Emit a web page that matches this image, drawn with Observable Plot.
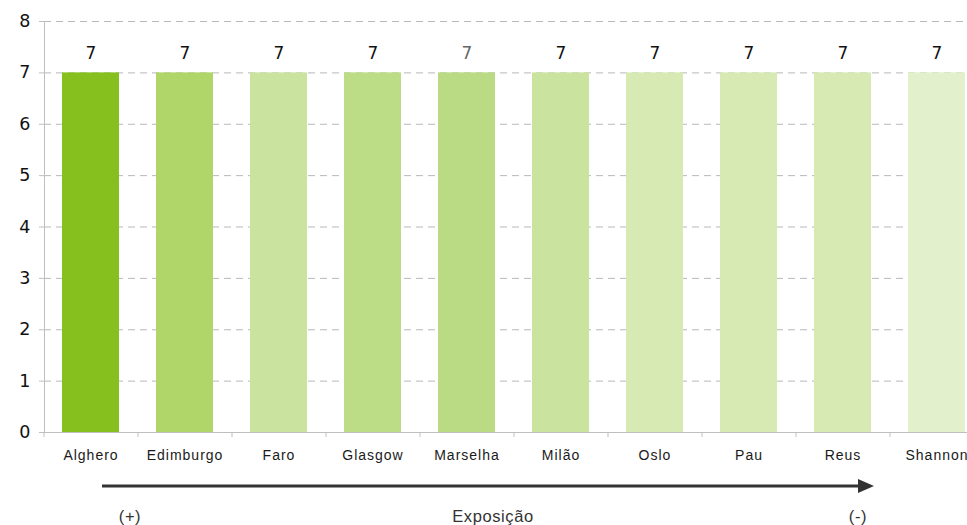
<!DOCTYPE html>
<html>
<head>
<meta charset="utf-8">
<script src="https://cdn.jsdelivr.net/npm/d3@7"></script>
<script src="https://cdn.jsdelivr.net/npm/@observablehq/plot@0.6"></script>
<style>
  html, body { margin: 0; padding: 0; background: #fff; width: 967px; height: 525px; overflow: hidden; }
  #chart { width: 967px; height: 470px; overflow: hidden; }
  #chart svg { display: block; max-width: none !important; }
  #chart g[aria-label="x-axis tick label"] text { letter-spacing: 1px; }
  #below { position: relative; width: 967px; height: 55px; font-family: "Liberation Sans", Arial, sans-serif; font-size: 16.5px; letter-spacing: 0.6px; color: #333; }
  #below span { position: absolute; top: 37px; transform: translateX(-50%); white-space: nowrap; }
</style>
</head>
<body>
<div id="chart"></div>
<div id="below">
  <svg width="967" height="30" style="position:absolute;left:0;top:0">
    <line x1="102" y1="16" x2="860" y2="16" stroke="#333" stroke-width="3"></line>
    <path d="M858,9 L874,16 L858,23 Z" fill="#333"></path>
  </svg>
  <span style="left:130px">(+)</span>
  <span style="left:493px">Exposição</span>
  <span style="left:858px">(-)</span>
</div>
<script>
const categories = ["Alghero", "Edimburgo", "Faro", "Glasgow", "Marselha", "Milão", "Oslo", "Pau", "Reus", "Shannon"];
const values = [7, 7, 7, 7, 7, 7, 7, 7, 7, 7];
const barColors = ["#86c01e", "#b0d66a", "#cae39f", "#bcdc86", "#badb83", "#cae39f", "#d7eab4", "#d7eab4", "#d7eab4", "#e3f0cc"];
const labelColors = ["#111", "#111", "#111", "#111", "#666", "#111", "#111", "#111", "#111", "#111"];
const yTicks = [0, 1, 2, 3, 4, 5, 6, 7, 8];

const data = categories.map((c, i) => ({cat: c, value: values[i], color: barColors[i], lc: labelColors[i]}));

const chart = Plot.plot({
  width: 984,
  height: 470,
  marginLeft: 44,
  marginRight: 0,
  marginTop: 21,
  marginBottom: 38,
  style: {maxWidth: "none", overflow: "visible"},
  x: {domain: categories, paddingInner: 0.39, paddingOuter: 0.195, label: null},
  y: {domain: [0, 8], label: null},
  marks: [
    Plot.gridY(yTicks.filter(d => d > 0), {stroke: "#b8b8b8", strokeOpacity: 1, strokeDasharray: "7,5"}),
    Plot.barY(data, {x: "cat", y: "value", fill: "color"}),
    Plot.text(data, {x: "cat", y: "value", text: d => String(d.value), fill: "lc", dy: -19, fontSize: 17, fontFamily: "DejaVu Sans, sans-serif"}),
    Plot.axisY({ticks: yTicks, tickSize: 5, tickPadding: 9, stroke: "#bfbfbf", fontSize: 17.5, fontFamily: "DejaVu Sans, sans-serif", fill: "#111"}),
    Plot.frame({anchor: "left", stroke: "#bfbfbf"}),
    Plot.ruleY([0], {stroke: "#bfbfbf"}),
    Plot.axisX({tickSize: 5, text: null, dx: -47, stroke: "#bfbfbf"}),
    Plot.axisX({tickSize: 0, tickPadding: 18, fontSize: 14, fontFamily: "Liberation Sans, Arial, sans-serif", fill: "#1a1a1a"})
  ]
});
chart.style.maxWidth = "none";
document.getElementById("chart").appendChild(chart);
</script>
</body>
</html>
